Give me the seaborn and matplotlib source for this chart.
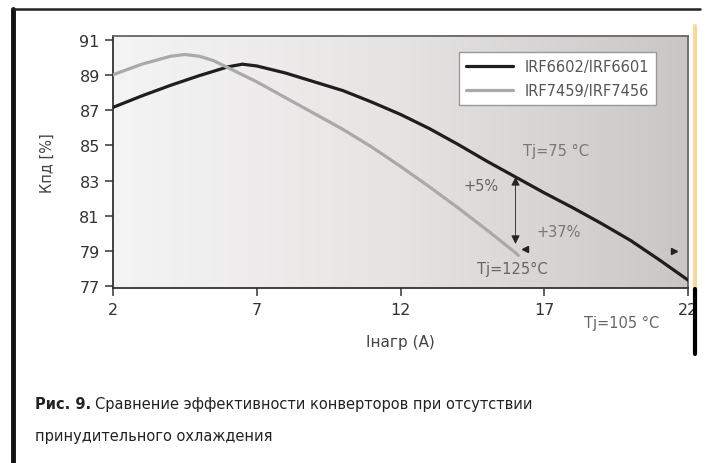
import numpy as np
import pandas as pd
import seaborn as sns
import matplotlib.pyplot as plt
from matplotlib.colors import LinearSegmentedColormap
from matplotlib.lines import Line2D

# load current, A
current_black = [2, 3, 4, 5, 6, 6.5, 7, 8, 9, 10, 11, 12, 13, 14, 15, 16, 17, 18, 19, 20, 21, 22]
eff_black = [87.15, 87.8, 88.4, 88.95, 89.45, 89.6, 89.5, 89.1, 88.6, 88.1, 87.45, 86.75,
             85.95, 85.05, 84.1, 83.2, 82.3, 81.45, 80.55, 79.6, 78.5, 77.35]
current_gray = [2, 3, 4, 4.5, 5, 5.5, 6, 7, 8, 9, 10, 11, 12, 13, 14, 15, 16, 16.1]
eff_gray = [89.0, 89.6, 90.05, 90.15, 90.05, 89.8, 89.4, 88.6, 87.7, 86.8, 85.9, 84.9,
            83.8, 82.65, 81.45, 80.2, 78.9, 78.75]
series_names = ['IRF6602/IRF6601', 'IRF7459/IRF7456']
xticks = [2, 7, 12, 17, 22]
yticks = [77, 79, 81, 83, 85, 87, 89, 91]

# annotation positions (data units)
arrow_x = 16.0
arrow_y = [83.2, 79.4]
small_heads_x = [16.33, 21.5]
small_heads_y = [79.1, 79.0]

df = pd.concat([
    pd.DataFrame({'I': current_black, 'eff': eff_black, 'series': series_names[0]}),
    pd.DataFrame({'I': current_gray, 'eff': eff_gray, 'series': series_names[1]}),
])

sns.set_style('ticks')
plt.rcParams['font.family'] = ['DejaVu Sans']

fig = plt.figure(figsize=(7.11, 4.64), dpi=100)
ax = fig.add_axes([113 / 711, 1 - 289 / 464, 575 / 711, 252 / 464])

# gradient background of the plot area
bg = LinearSegmentedColormap.from_list('bg', ['#f5f4f4', '#e6e4e3', '#c9c6c4'])
ax.imshow(np.linspace(0, 1, 256)[None, :], cmap=bg, aspect='auto',
          extent=[2, 22, 76.9, 91.2], zorder=0)

sns.lineplot(data=df, x='I', y='eff', hue='series', ax=ax,
             palette={series_names[0]: '#1e1e1e', series_names[1]: '#a9a9a9'},
             linewidth=2.3, legend=True, zorder=3)

ax.set_xlim(2, 22)
ax.set_ylim(76.9, 91.2)
ax.set_xticks(xticks)
ax.set_yticks(yticks)
ax.tick_params(axis='both', direction='out', length=6, width=1.2, color='#444',
               labelsize=11.5, labelcolor='#333')
ax.tick_params(axis='x', pad=4)
for s in ['left', 'bottom']:
    ax.spines[s].set_color('#333')
    ax.spines[s].set_linewidth(1.3)
for s in ['top', 'right']:
    ax.spines[s].set_color('#666')
    ax.spines[s].set_linewidth(1.3)

ax.set_xlabel('Iнагр (A)', fontsize=11, color='#444', labelpad=12)
ax.set_ylabel('Кпд [%]', fontsize=10.5, color='#444', labelpad=18)

leg = ax.legend(loc='upper right', bbox_to_anchor=(0.957, 0.965), fontsize=10.5,
                frameon=True, fancybox=False, edgecolor='#999', framealpha=1,
                handlelength=3.2, borderpad=0.5, labelspacing=0.6)
for t in leg.get_texts():
    t.set_color('#555')

# annotations
ax.annotate('', xy=(arrow_x, arrow_y[0]), xytext=(arrow_x, arrow_y[1]),
            arrowprops=dict(arrowstyle='<|-|>', color='#222', lw=0.6,
                            mutation_scale=13, shrinkA=0, shrinkB=0), zorder=4)
ax.plot(small_heads_x[:1], small_heads_y[:1], marker='<', color='#222', markersize=5, ls='none')
ax.plot(small_heads_x[1:], small_heads_y[1:], marker='>', color='#222', markersize=5, ls='none')
ax.text(17.4, 84.7, 'Tj=75 °C', color='#777', fontsize=10.5, ha='center', va='center')
ax.text(14.8, 82.7, '+5%', color='#666', fontsize=10.5, ha='center', va='center')
ax.text(17.5, 80.1, '+37%', color='#777', fontsize=10.5, ha='center', va='center')
ax.text(15.9, 78.0, 'Tj=125°C', color='#666', fontsize=10.5, ha='center', va='center')
fig.text(622 / 711, 1 - 323 / 464, 'Tj=105 °C', color='#666', fontsize=10.5,
         ha='center', va='center')

# page frame
fig.add_artist(Line2D([13 / 711, 13 / 711], [0, 1 - 10 / 464], color='#111', lw=3.5))
fig.add_artist(Line2D([12 / 711, 700 / 711], [1 - 10 / 464, 1 - 10 / 464], color='#222', lw=1.8))
fig.add_artist(Line2D([695 / 711, 695 / 711], [1 - 290 / 464, 1 - 27 / 464], color='#f5d9a0', lw=3))
fig.add_artist(Line2D([695 / 711, 695 / 711], [1 - 355 / 464, 1 - 290 / 464], color='#000', lw=3))

# caption
t1 = fig.text(35 / 711, 1 - 405 / 464, 'Рис. 9.', fontsize=10.5, fontweight='bold',
              color='#222', va='center')
fig.canvas.draw()
bb = t1.get_window_extent()
fig.text((bb.x1 + 4) / 711, 1 - 405 / 464,
         'Сравнение эффективности конверторов при отсутствии',
         fontsize=10.5, color='#222', va='center')
fig.text(35 / 711, 1 - 437 / 464, 'принудительного охлаждения', fontsize=10.5,
         color='#222', va='center')

fig.savefig('out.png', dpi=100)
